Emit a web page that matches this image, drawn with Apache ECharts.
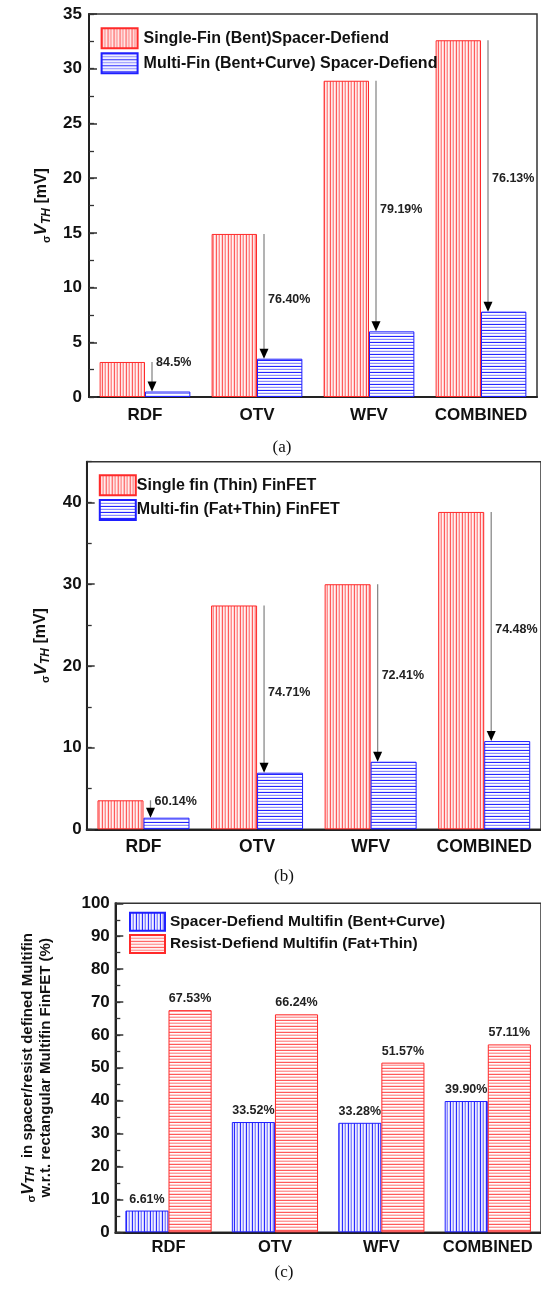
<!DOCTYPE html>
<html><head><meta charset="utf-8">
<script src="https://cdn.jsdelivr.net/npm/echarts@6/dist/echarts.min.js"></script>
<style>html,body{margin:0;padding:0;background:#fff}#c{width:541px;height:1289px}</style>
</head><body><div id="c"></div>
<script>
// ---------- data ----------
const categories = ['RDF', 'OTV', 'WFV', 'COMBINED'];
// panel (a)
const aSingleName = 'Single-Fin (Bent)Spacer-Defiend';
const aMultiName = 'Multi-Fin (Bent+Curve) Spacer-Defiend';
const aSingle = [3.2, 14.9, 28.9, 32.6];
const aMulti = [0.5, 3.5, 6.0, 7.8];
const aReduction = ['84.5%', '76.40%', '79.19%', '76.13%'];
// panel (b)
const bSingleName = 'Single fin (Thin) FinFET';
const bMultiName = 'Multi-fin (Fat+Thin) FinFET';
const bSingle = [3.55, 27.4, 30.0, 38.85];
const bMulti = [1.42, 6.93, 8.27, 10.8];
const bReduction = ['60.14%', '74.71%', '72.41%', '74.48%'];
// panel (c)
const cSpacerName = 'Spacer-Defiend Multifin (Bent+Curve)';
const cResistName = 'Resist-Defiend Multifin (Fat+Thin)';
const cSpacer = [6.61, 33.52, 33.28, 39.90];
const cResist = [67.53, 66.24, 51.57, 57.11];
const captions = ['(a)', '(b)', '(c)'];

// ---------- styling helpers ----------
const FONT = '"Liberation Sans", Arial, sans-serif';
function stripes(vertical, cols) {
  const n = cols.length;
  const cv = document.createElement('canvas');
  cv.width = vertical ? n : 1; cv.height = vertical ? 1 : n;
  const ctx = cv.getContext('2d');
  cols.forEach((c, i) => { ctx.fillStyle = c; vertical ? ctx.fillRect(i, 0, 1, 1) : ctx.fillRect(0, i, 1, 1); });
  return { image: cv, repeat: 'repeat' };
}
const redV = ['#ff5a5a', '#ffe8e8', '#ffc4c4', '#ff8c8c', '#fff4f4', '#ffd0d0'];
const redH = ['#ff5a5a', '#ffffff', '#ffd0d0', '#ff9a9a', '#ffffff', '#ffd8d8'];
const blueH = ['#2626ff', '#ffffff', '#e6e6ff', '#8c8cff', '#ffffff', '#e6e6ff'];
const blueV = ['#2a2aff', '#e8e8ff', '#c4c4ff', '#8a8aff', '#f4f4ff', '#d0d0ff'];
const RED = '#ff2a2a', BLUE = '#1f1fff';

function barSeries(name, data, xi, yi, fill, border, label) {
  return {
    type: 'bar', name, data, xAxisIndex: xi, yAxisIndex: yi,
    barGap: '0%', barCategoryGap: '19%',
    itemStyle: { color: stripes(fill.v, fill.c), borderColor: border, borderWidth: 1 },
    label: label ? { show: true, position: 'top', distance: 5, formatter: p => p.value.toFixed(2) + '%',
      fontFamily: FONT, fontWeight: 'bold', fontSize: 12.5, color: '#222' } : { show: false },
    emphasis: { disabled: true }, animation: false
  };
}
function arrowSeries(xi, yi, hi, lo, txt) {
  return {
    type: 'custom', xAxisIndex: xi, yAxisIndex: yi, silent: true, z: 10, animation: false,
    data: hi.map((v, i) => [i, v, lo[i]]),
    renderItem(params, api) {
      const top = api.coord([api.value(0), api.value(1)]);
      const bot = api.coord([api.value(0), api.value(2)]);
      const x = top[0] + 7, head = 10;
      const span = bot[1] - top[1];
      const ly = span < 40 ? top[1] + 1 : (top[1] + bot[1]) / 2 + 3;
      return { type: 'group', children: [
        { type: 'line', shape: { x1: x, y1: top[1], x2: x, y2: bot[1] - head + 1 }, style: { stroke: '#8a8a8a', lineWidth: 1.3 } },
        { type: 'polygon', shape: { points: [[x - 4.5, bot[1] - head], [x + 4.5, bot[1] - head], [x, bot[1]]] }, style: { fill: '#000' } },
        { type: 'text', x: x + 4, y: ly, style: { text: txt[params.dataIndex], fill: '#222',
          font: 'bold 12.5px ' + FONT, align: 'left', verticalAlign: 'middle' } }
      ] };
    }
  };
}
function xAxis(gi, fs, margin) {
  return { type: 'category', gridIndex: gi, data: categories,
    axisLine: { lineStyle: { color: '#222', width: 2 } },
    axisTick: { inside: true, length: 5, lineStyle: { color: '#333', width: 1.5 } },
    axisLabel: { interval: 0, hideOverlap: false, fontFamily: FONT, fontWeight: 'bold', fontSize: fs, color: '#111', margin },
    splitLine: { show: false } };
}
function yMajor(gi, max, interval, margin, name, nameGap, rich) {
  return { type: 'value', gridIndex: gi, position: 'left', min: 0, max, interval,
    axisLine: { show: true, lineStyle: { color: '#222', width: 2 } },
    axisTick: { show: true, inside: true, length: 8, lineStyle: { color: '#333', width: 1.5 } },
    axisLabel: { fontFamily: FONT, fontWeight: 'bold', fontSize: 17, color: '#111', margin, showMaxLabel: max % interval === 0 },
    splitLine: { show: false },
    name, nameLocation: 'middle', nameRotate: 90, nameGap,
    nameTextStyle: { fontFamily: FONT, fontWeight: 'bold', color: '#111', rich } };
}
function yMinor(gi, max, interval) {
  return { type: 'value', gridIndex: gi, position: 'left', offset: 0, min: 0, max, interval,
    axisLine: { show: false }, axisLabel: { show: false }, splitLine: { show: false },
    axisTick: { show: true, inside: true, length: 5, lineStyle: { color: '#333', width: 1.3 } } };
}
const richMV = {
  s: { fontFamily: FONT, fontSize: 11, color: '#111', verticalAlign: 'bottom', lineHeight: 16 },
  v: { fontFamily: FONT, fontSize: 17, fontWeight: 'bold', fontStyle: 'italic', color: '#111', lineHeight: 22 },
  sub: { fontFamily: FONT, fontSize: 12, fontWeight: 'bold', fontStyle: 'italic', color: '#111', verticalAlign: 'bottom', lineHeight: 13 },
  b: { fontFamily: FONT, fontSize: 16, fontWeight: 'bold', color: '#111', lineHeight: 22 }
};
const richC = {
  s: { fontFamily: FONT, fontSize: 11, color: '#111', verticalAlign: 'bottom', lineHeight: 14 },
  v: { fontFamily: FONT, fontSize: 17, fontWeight: 'bold', fontStyle: 'italic', color: '#111', lineHeight: 18 },
  sub: { fontFamily: FONT, fontSize: 13, fontWeight: 'bold', fontStyle: 'italic', color: '#111', verticalAlign: 'bottom', lineHeight: 15 },
  b: { fontFamily: FONT, fontSize: 15, fontWeight: 'bold', color: '#111', lineHeight: 18 }
};
function legend(names, left, top, w, h, gap, fs, textPad) {
  return { data: names, orient: 'vertical', left, top, itemWidth: w, itemHeight: h, itemGap: gap, padding: 0,
    icon: 'rect', selectedMode: false,
    textStyle: { fontFamily: FONT, fontWeight: 'bold', fontSize: fs, color: '#111', padding: textPad } };
}
const gridStyle = { show: true, borderColor: '#333', borderWidth: 1.5, backgroundColor: 'transparent', containLabel: false };

const chart = echarts.init(document.getElementById('c'), null, { renderer: 'canvas' });
chart.setOption({
  animation: false,
  backgroundColor: '#fff',
  grid: [
    Object.assign({ left: 89, top: 14, width: 448, height: 383 }, gridStyle),
    Object.assign({ left: 86.7, top: 461.7, width: 459, height: 367.6 }, gridStyle),
    Object.assign({ left: 115.3, top: 903.3, width: 433, height: 329 }, gridStyle)
  ],
  legend: [
    legend([aSingleName, aMultiName], 100.6, 27.3, 36, 20, 3, 16, [0, 0, 0, 1]),
    legend([bSingleName, bMultiName], 98.8, 474.3, 36, 20, 2.7, 16, [0, 0, 0, -4]),
    legend([cSpacerName, cResistName], 129, 911.7, 35, 18, 2.4, 15.5, [0, 0, 0, 0])
  ],
  xAxis: [xAxis(0, 17, 10), xAxis(1, 17.5, 9), xAxis(2, 16.5, 7)],
  yAxis: [
    yMajor(0, 35, 5, 7, '{s|σ}{v|V}{sub|TH}{b| [mV]}', 27, richMV), yMinor(0, 35, 2.5),
    yMajor(1, 45, 10, 5, '{s|σ}{v|V}{sub|TH}{b| [mV]}', 31, richMV), yMinor(1, 45, 5),
    yMajor(2, 100, 10, 5.5, '{s|σ}{v|V}{sub|TH}{b|  in spacer/resist defined Multifin}\n{b|w.r.t. rectangular Multifin FinFET (%)}', 60, richC), yMinor(2, 100, 5)
  ],
  series: [
    barSeries(aSingleName, aSingle, 0, 0, { v: true, c: redV }, RED, false),
    barSeries(aMultiName, aMulti, 0, 0, { v: false, c: blueH }, BLUE, false),
    arrowSeries(0, 0, aSingle, aMulti, aReduction),
    barSeries(bSingleName, bSingle, 1, 2, { v: true, c: redV }, RED, false),
    barSeries(bMultiName, bMulti, 1, 2, { v: false, c: blueH }, BLUE, false),
    arrowSeries(1, 2, bSingle, bMulti, bReduction),
    barSeries(cSpacerName, cSpacer, 2, 4, { v: true, c: blueV }, BLUE, true),
    barSeries(cResistName, cResist, 2, 4, { v: false, c: redH }, RED, true)
  ],
  graphic: [
    { type: 'text', x: 282, y: 448, style: { text: captions[0], font: '17px "Liberation Serif", "Times New Roman", serif', fill: '#111', align: 'center', verticalAlign: 'middle' } },
    { type: 'text', x: 284, y: 876.7, style: { text: captions[1], font: '17px "Liberation Serif", "Times New Roman", serif', fill: '#111', align: 'center', verticalAlign: 'middle' } },
    { type: 'text', x: 284, y: 1272.3, style: { text: captions[2], font: '17px "Liberation Serif", "Times New Roman", serif', fill: '#111', align: 'center', verticalAlign: 'middle' } }
  ]
});
</script></body></html>
